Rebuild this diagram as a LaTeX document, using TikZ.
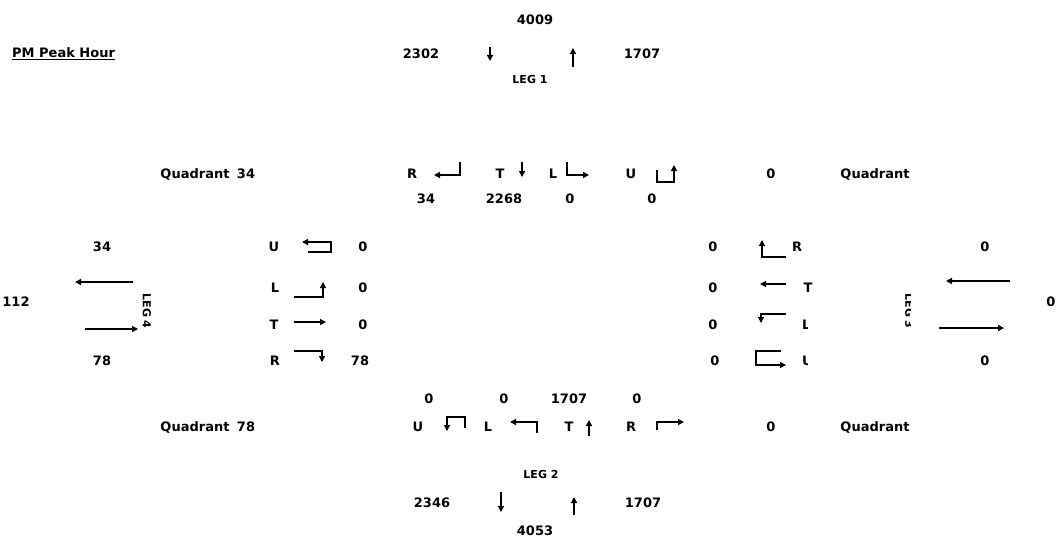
\documentclass[tikz,border=0pt]{standalone}
\usepackage{fontspec}
\setmainfont{DejaVu Sans}
\usetikzlibrary{arrows.meta}
\begin{document}
\begin{tikzpicture}[x=1pt,y=-1pt,
  lab/.style={font=\bfseries\fontsize{13}{15}\selectfont, inner sep=0pt, anchor=base, yshift=-4.7pt},
  leg/.style={font=\bfseries\fontsize{11}{13}\selectfont, inner sep=0pt, anchor=base, yshift=-4pt},
  rleg/.style={font=\bfseries\fontsize{11}{13}\selectfont, inner sep=0pt, text depth=0pt, anchor=center, rotate=-90},
  mv/.style={line width=1.3pt, -{Triangle[length=6pt,width=6pt]}},
]
\useasboundingbox (0,0) rectangle (1059,543);

% title
\node[lab, anchor=base west] (title) at (12,53) {\underline{PM Peak Hour}};

% ---------- LEG 1 (top) ----------
\node[lab] (l1tot) at (535,20) {4009};
\node[lab] (l1out) at (421,54) {2302};
\node[lab] (l1in) at (642,54) {1707};
\node[leg] (leg1) at (530,79) {LEG 1};
\draw[mv] (490,47) -- (490,61);
\draw[mv] (573,67) -- (573,48);

\node[lab] (qNW) at (195,174) {Quadrant};
\node[lab] (qNWv) at (246,174) {34};
\node[lab] (l1R) at (412,174) {R};
\node[lab] (l1T) at (500,174) {T};
\node[lab] (l1L) at (553,174) {L};
\node[lab] (l1U) at (631,174) {U};
\node[lab] (qNEv) at (771,174) {0};
\node[lab] (qNE) at (875,174) {Quadrant};
\node[lab] (l1Rv) at (426,199) {34};
\node[lab] (l1Tv) at (504,199) {2268};
\node[lab] (l1Lv) at (570,199) {0};
\node[lab] (l1Uv) at (652,199) {0};
\draw[mv] (460,162) -- (460,175) -- (434,175);
\draw[mv] (522,162) -- (522,177);
\draw[mv] (567,162) -- (567,175) -- (589,175);
\draw[mv] (657,170) -- (657,182) -- (674,182) -- (674,165);

% ---------- LEG 4 (left) ----------
\node[lab] (l4out) at (102,247) {34};
\node[lab] (l4tot) at (16,302) {112};
\node[lab] (l4in) at (102,361) {78};
\node[rleg] (leg4) at (147,311) {LEG 4};
\draw[mv] (133,282) -- (75,282);
\draw[mv] (85,329) -- (138,329);

\node[lab] (l4U) at (274,247) {U};
\node[lab] (l4Uv) at (363,247) {0};
\node[lab] (l4L) at (275,288) {L};
\node[lab] (l4Lv) at (363,288) {0};
\node[lab] (l4T) at (274,325) {T};
\node[lab] (l4Tv) at (363,325) {0};
\node[lab] (l4R) at (275,361) {R};
\node[lab] (l4Rv) at (360,361) {78};
\draw[mv] (308,252) -- (331,252) -- (331,242) -- (302,242);
\draw[mv] (294,297) -- (323,297) -- (323,282);
\draw[mv] (294,322) -- (326,322);
\draw[mv] (294,351) -- (322,351) -- (322,362);

% ---------- LEG 3 (right) ----------
\node[lab] (l3Rv) at (713,247) {0};
\node[lab] (l3R) at (797,247) {R};
\node[lab] (l3Tv) at (713,288) {0};
\node[lab] (l3T) at (808,288) {T};
\node[lab] (l3Lv) at (713,325) {0};
\node[lab] (l3Uv) at (715,361) {0};
\begin{scope}
  \clip (795,300) rectangle (807.5,380);
  \node[lab, anchor=base west] (l3L) at (802,325) {L};
  \node[lab, anchor=base west] (l3U) at (802,361) {U};
\end{scope}
\draw[mv] (786,257) -- (762,257) -- (762,240);
\draw[mv] (786,284) -- (760,284);
\draw[mv] (786,314) -- (761,314) -- (761,323);
\draw[mv] (781,351) -- (756,351) -- (756,365) -- (786,365);

\node[lab] (l3out) at (985,247) {0};
\node[lab] (l3tot) at (1051,302) {0};
\node[lab] (l3in) at (985,361) {0};
\begin{scope}
  \clip (890,280) rectangle (910,345);
  \node[rleg] (leg3) at (909.5,311) {LEG 3};
\end{scope}
\draw[mv] (1010,281) -- (946,281);
\draw[mv] (939,328) -- (1004,328);

% ---------- LEG 2 (bottom) ----------
\node[lab] (l2Uv) at (429,399) {0};
\node[lab] (l2Lv) at (504,399) {0};
\node[lab] (l2Tv) at (569,399) {1707};
\node[lab] (l2Rv) at (637,399) {0};
\node[lab] (qSW) at (195,427) {Quadrant};
\node[lab] (qSWv) at (246,427) {78};
\node[lab] (l2U) at (418,427) {U};
\node[lab] (l2L) at (488,427) {L};
\node[lab] (l2T) at (569,427) {T};
\node[lab] (l2R) at (631,427) {R};
\node[lab] (qSEv) at (771,427) {0};
\node[lab] (qSE) at (875,427) {Quadrant};
\draw[mv] (465,428) -- (465,417) -- (447,417) -- (447,431);
\draw[mv] (537,433) -- (537,422) -- (510,422);
\draw[mv] (589,436) -- (589,420);
\draw[mv] (657,430) -- (657,422) -- (684,422);

\node[leg] (leg2) at (541,474) {LEG 2};
\node[lab] (l2out) at (432,503) {2346};
\node[lab] (l2in) at (643,503) {1707};
\node[lab] (l2tot) at (535,531) {4053};
\draw[mv] (501,492) -- (501,512);
\draw[mv] (574,515) -- (574,497);
\end{tikzpicture}
\end{document}
